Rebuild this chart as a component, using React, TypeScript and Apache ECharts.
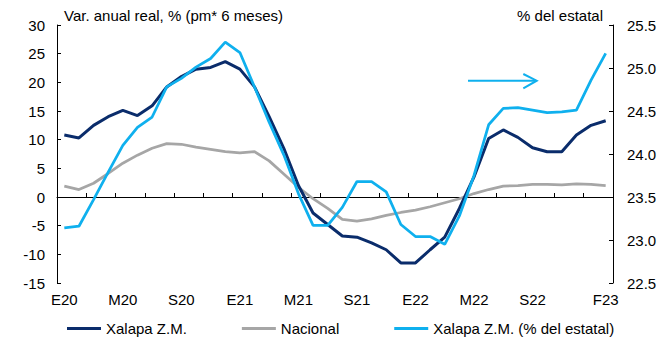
import React, { useEffect, useRef } from "react";
import * as echarts from "echarts";

const categories = [
  "Ene-20", "Feb-20", "Mar-20", "Abr-20", "May-20", "Jun-20", "Jul-20", "Ago-20", "Sep-20", "Oct-20", "Nov-20", "Dic-20",
  "Ene-21", "Feb-21", "Mar-21", "Abr-21", "May-21", "Jun-21", "Jul-21", "Ago-21", "Sep-21", "Oct-21", "Nov-21", "Dic-21",
  "Ene-22", "Feb-22", "Mar-22", "Abr-22", "May-22", "Jun-22", "Jul-22", "Ago-22", "Sep-22", "Oct-22", "Nov-22", "Dic-22",
  "Ene-23", "Feb-23",
];

const tickCategories = ["Ene-20", "May-20", "Sep-20", "Ene-21", "May-21", "Sep-21", "Ene-22", "May-22", "Sep-22", "Feb-23"];
const tickLabels = ["E20", "M20", "S20", "E21", "M21", "S21", "E22", "M22", "S22", "F23"];

const xalapa = [
  10.8, 10.3, 12.5, 14.0, 15.1, 14.2, 15.9, 19.2, 21.0, 22.3, 22.6, 23.6,
  22.3, 19.2, 14.0, 8.5, 2.0, -2.8, -4.8, -6.8, -7.0, -8.0, -9.2, -11.5,
  -11.5, -9.2, -7.0, -2.0, 3.5, 10.2, 11.7, 10.4, 8.6, 7.9, 7.9, 10.8,
  12.5, 13.3,
];

const nacional = [
  1.9, 1.3, 2.4, 4.1, 5.9, 7.3, 8.5, 9.3, 9.2, 8.7, 8.3, 7.9,
  7.7, 7.9, 6.3, 4.0, 1.7, -0.3, -2.0, -3.9, -4.2, -3.8, -3.2, -2.7,
  -2.3, -1.7, -1.0, -0.3, 0.6, 1.3, 1.9, 2.0, 2.2, 2.2, 2.1, 2.3,
  2.2, 2.0,
];

const xalapaEstatal = [
  23.14, 23.16, 23.47, 23.79, 24.1, 24.31, 24.43, 24.78, 24.88, 25.01, 25.11, 25.3,
  25.18, 24.78, 24.37, 23.99, 23.54, 23.17, 23.17, 23.38, 23.68, 23.68, 23.56, 23.18,
  23.04, 23.04, 22.95, 23.28, 23.75, 24.34, 24.53, 24.54, 24.51, 24.48, 24.49, 24.51,
  24.86, 25.17,
];

const seriesNames = ["Xalapa Z.M.", "Nacional", "Xalapa Z.M. (% del estatal)"];
const leftTitle = "Var. anual real, % (pm* 6 meses)";
const rightTitle = "% del estatal";

const NAVY = "#0A2C6B";
const GRAY = "#A6A6A6";
const CYAN = "#0FB0EE";
const FONT = "'Liberation Sans', Arial, sans-serif";

export default function App() {
  const ref = useRef<HTMLDivElement>(null);

  useEffect(() => {
    if (!ref.current) return;
    const chart = echarts.init(ref.current, undefined, { renderer: "svg" });
    const textStyle = { fontFamily: FONT, fontSize: 15, color: "#000" };
    chart.setOption({
      animation: false,
      textStyle: { fontFamily: FONT },
      grid: { left: 57, right: 57, top: 25, bottom: 56, containLabel: false },
      legend: {
        data: seriesNames,
        left: 62,
        top: 316,
        icon: "rect",
        itemWidth: 34,
        itemHeight: 3,
        itemGap: 55,
        textStyle: { ...textStyle },
      },
      xAxis: [
        {
          type: "category",
          data: categories,
          position: "bottom",
          boundaryGap: true,
          axisLine: { show: true, onZero: true, onZeroAxisIndex: 0, lineStyle: { color: "#000", width: 1 } },
          axisTick: { show: true, inside: true, interval: 1, length: 4, lineStyle: { color: "#000" } },
          axisLabel: { show: false },
          splitLine: { show: false },
        },
        {
          type: "category",
          data: categories,
          position: "bottom",
          boundaryGap: true,
          axisLine: { show: false, onZero: false },
          axisTick: { show: false },
          axisLabel: {
            ...textStyle,
            margin: 9,
            interval: (_i: number, v: string) => tickCategories.includes(v),
            formatter: (v: string) => {
              const k = tickCategories.indexOf(v);
              return k >= 0 ? tickLabels[k] : "";
            },
          },
          splitLine: { show: false },
        },
      ],
      yAxis: [
        {
          type: "value",
          min: -15,
          max: 30,
          interval: 5,
          position: "left",
          axisLine: { show: true, lineStyle: { color: "#000", width: 1 } },
          axisTick: { show: true, inside: true, length: 4, lineStyle: { color: "#000" } },
          axisLabel: { ...textStyle, margin: 12 },
          splitLine: { show: false },
        },
        {
          type: "value",
          min: 22.5,
          max: 25.5,
          interval: 0.5,
          position: "right",
          axisLine: { show: true, lineStyle: { color: "#000", width: 1 } },
          axisTick: { show: true, inside: true, length: 4, lineStyle: { color: "#000" } },
          axisLabel: { ...textStyle, margin: 14, formatter: (v: number) => v.toFixed(1) },
          splitLine: { show: false },
        },
      ],
      series: [
        {
          name: seriesNames[0],
          type: "line",
          data: xalapa,
          xAxisIndex: 0,
          yAxisIndex: 0,
          color: NAVY,
          lineStyle: { width: 3, color: NAVY },
          showSymbol: false,
          symbol: "none",
          z: 3,
        },
        {
          name: seriesNames[1],
          type: "line",
          data: nacional,
          xAxisIndex: 0,
          yAxisIndex: 0,
          color: GRAY,
          lineStyle: { width: 2.75, color: GRAY },
          showSymbol: false,
          symbol: "none",
          z: 2,
        },
        {
          name: seriesNames[2],
          type: "line",
          data: xalapaEstatal,
          xAxisIndex: 0,
          yAxisIndex: 1,
          color: CYAN,
          lineStyle: { width: 2.75, color: CYAN },
          showSymbol: false,
          symbol: "none",
          z: 4,
        },
      ],
      graphic: [
        {
          type: "text",
          left: 64,
          top: 8,
          style: { text: leftTitle, fill: "#000", font: `15px ${FONT}` },
        },
        {
          type: "text",
          right: 67,
          top: 8,
          style: { text: rightTitle, fill: "#000", font: `15px ${FONT}` },
        },
        {
          type: "line",
          shape: { x1: 468, y1: 80.7, x2: 536, y2: 80.7 },
          style: { stroke: CYAN, lineWidth: 2 },
        },
        {
          type: "polyline",
          shape: { points: [[523.3, 74], [536.7, 80.7], [523.3, 88.3]] },
          style: { stroke: CYAN, lineWidth: 2, fill: "none" },
        },
      ],
    });
    return () => chart.dispose();
  }, []);

  return (
    <div
      ref={ref}
      style={{ position: "fixed", left: 0, top: 0, width: 670, height: 339, background: "#fff" }}
    />
  );
}
